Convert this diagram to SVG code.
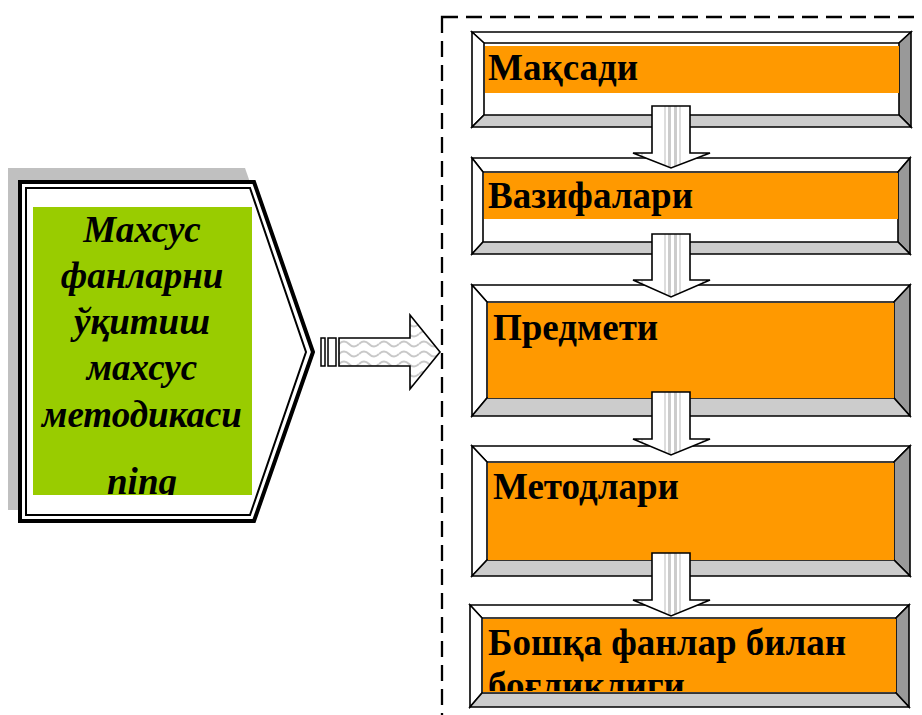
<svg xmlns="http://www.w3.org/2000/svg" width="922" height="715" viewBox="0 0 922 715">
<style>
.ol{stroke:#000;stroke-width:1.6;stroke-linejoin:miter}
.bw{fill:#fff}
.br{fill:#999}
.bb{fill:#ccc}
.or{fill:#FF9900}
.bt{font-family:"Liberation Serif","Times New Roman",serif;font-weight:bold;font-size:37px;fill:#000}
.gt{font-family:"Liberation Serif","Times New Roman",serif;font-weight:bold;font-style:italic;font-size:37px;fill:#000;text-anchor:middle}
.da{fill:url(#vstripe);stroke:#000;stroke-width:1.6}
</style>
<defs>
<pattern id="vstripe" patternUnits="userSpaceOnUse" x="652" y="0" width="38" height="10">
<rect width="38" height="10" fill="#fff"/>
<rect x="12" width="2" height="10" fill="#ddd"/>
<rect x="16" width="3" height="10" fill="#ccc"/>
<rect x="22" width="3" height="10" fill="#ccc"/>
<rect x="27" width="2" height="10" fill="#ddd"/>
</pattern>
<pattern id="wave" patternUnits="userSpaceOnUse" x="339" y="338" width="20" height="10">
<rect width="20" height="10" fill="#fff"/>
<path d="M0,6 Q5,1 10,6 T20,6" fill="none" stroke="#c8c8c8" stroke-width="2"/>
</pattern>
<clipPath id="cg"><rect x="33" y="207" width="219" height="288"/></clipPath>
<clipPath id="c5"><rect x="482" y="618" width="414" height="73"/></clipPath>
</defs>

<rect x="442" y="17" width="500" height="720" fill="none" stroke="#000" stroke-width="2.3" stroke-dasharray="16,8"/>

<g id="main-node">
<polygon points="8,168 245,168 305,340 245,510 8,510" fill="#c0c0c0"/>
<polygon points="20,182 254,182 313,352 254,521 20,521" fill="#fff" stroke="#000" stroke-width="4"/>
<polygon points="26,188 250,188 306,352 250,515 26,515" fill="none" stroke="#000" stroke-width="2"/>
<rect x="33" y="207" width="219" height="288" fill="#99CC00"/>
<g clip-path="url(#cg)">
<text class="gt" x="142" y="242">Махсус</text>
<text class="gt" x="142" y="288">фанларни</text>
<text class="gt" x="142" y="334">ўқитиш</text>
<text class="gt" x="142" y="380">махсус</text>
<text class="gt" x="142" y="427">методикаси</text>
<text class="gt" x="142" y="494">ning</text>
</g>
</g>

<g id="box1">
<polygon class="bw ol" points="472,32 911,32 899,43 484,43"/>
<polygon class="bw ol" points="472,32 484,43 484,115 472,127"/>
<polygon class="br ol" points="911,32 911,127 899,115 899,43"/>
<polygon class="bb ol" points="472,127 484,115 899,115 911,127"/>
<rect x="485" y="46" width="414" height="47" class="or"/>
<text class="bt" x="488" y="80">Мақсади</text>
</g>

<g id="box2">
<polygon class="bw ol" points="472,158 910,158 898,172 483,172"/>
<polygon class="bw ol" points="472,158 483,172 483,242 472,254"/>
<polygon class="br ol" points="910,158 910,254 898,242 898,172"/>
<polygon class="bb ol" points="472,254 483,242 898,242 910,254"/>
<rect x="484" y="173" width="414" height="46" class="or"/>
<text class="bt" x="488" y="208">Вазифалари</text>
</g>

<g id="box3">
<polygon class="bw ol" points="472,285 910,285 894,302 487,302"/>
<polygon class="bw ol" points="472,285 487,302 487,398 472,416"/>
<polygon class="br ol" points="910,285 910,416 894,398 894,302"/>
<polygon class="bb ol" points="472,416 487,398 894,398 910,416"/>
<rect x="488" y="303" width="406" height="95" class="or"/>
<text class="bt" x="493" y="340">Предмети</text>
</g>

<g id="box4">
<polygon class="bw ol" points="472,446 910,446 894,462 487,462"/>
<polygon class="bw ol" points="472,446 487,462 487,560 472,576"/>
<polygon class="br ol" points="910,446 910,576 894,560 894,462"/>
<polygon class="bb ol" points="472,576 487,560 894,560 910,576"/>
<rect x="488" y="463" width="406" height="97" class="or"/>
<text class="bt" x="493" y="499">Методлари</text>
</g>

<g id="box5">
<polygon class="bw ol" points="470,605 909,605 896,618 482,618"/>
<polygon class="bw ol" points="470,605 482,618 482,693 470,707"/>
<polygon class="br ol" points="909,605 909,707 896,693 896,618"/>
<polygon class="bb ol" points="470,707 482,693 896,693 909,707"/>
<rect x="483" y="619" width="413" height="73" class="or"/>
<g clip-path="url(#c5)">
<text class="bt" x="488" y="655">Бошқа фанлар билан</text>
<text class="bt" x="488" y="698">боғлиқлиги</text>
</g>
</g>

<g id="connectors">
<polygon class="da" points="652,106 690,106 690,153 710,153 671,168 633,153 652,153"/>
<polygon class="da" points="652,234 690,234 690,280 710,280 671,297 633,280 652,280"/>
<polygon class="da" points="652,392 690,392 690,439 710,439 671,455 633,439 652,439"/>
<polygon class="da" points="652,553 690,553 690,600 710,600 671,616 633,600 652,600"/>
<g id="right-arrow">
<rect x="321" y="338" width="4" height="28" fill="#fff" stroke="#000" stroke-width="1.5"/>
<rect x="328" y="338" width="8" height="28" fill="#fff" stroke="#000" stroke-width="1.5"/>
<polygon points="339,338 410,338 410,315 440,352 410,389 410,366 339,366" fill="url(#wave)" stroke="#000" stroke-width="1.6"/>
</g>
</g>
</svg>
